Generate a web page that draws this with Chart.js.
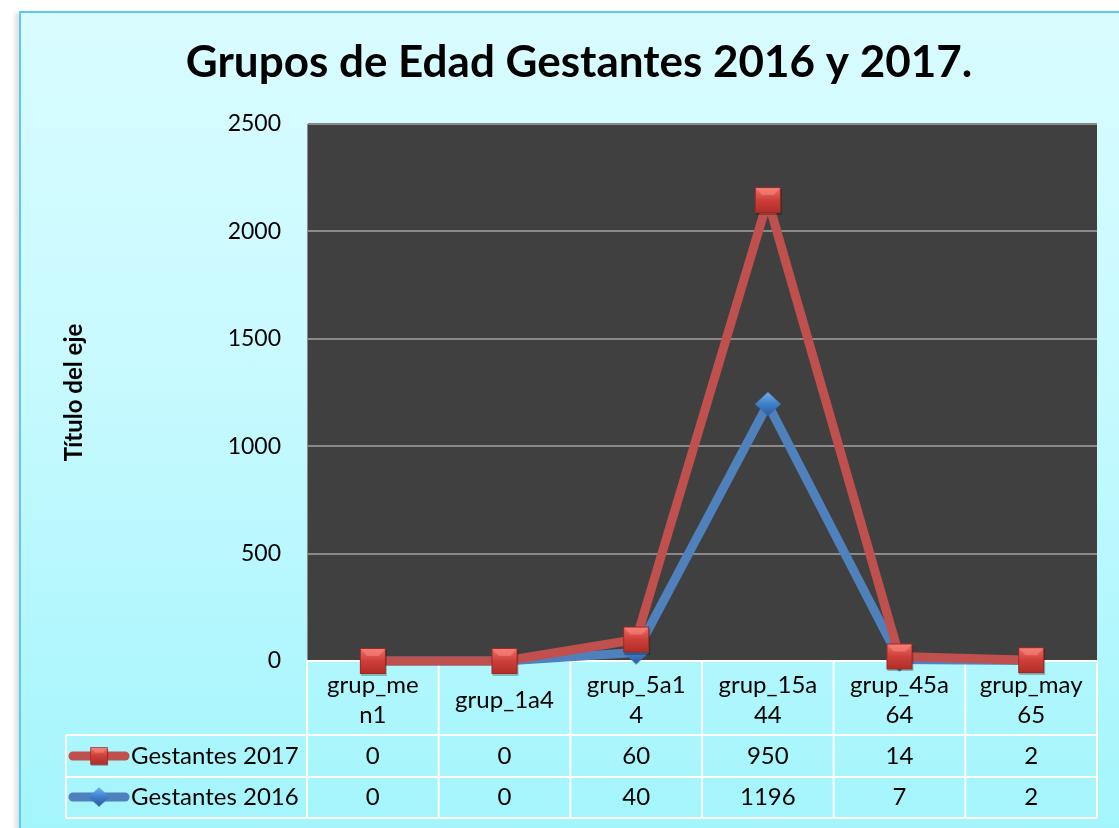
<!DOCTYPE html>
<html><head><meta charset="utf-8">
<script src="https://cdn.jsdelivr.net/npm/chart.js@4/dist/chart.umd.min.js"></script>
<style>
html,body{margin:0;padding:0;background:#fff;width:1119px;height:828px;overflow:hidden;}
#box{position:absolute;left:19px;top:11px;width:1120px;height:830px;border:2px solid #5cc9ee;
 background:linear-gradient(to bottom,#d9fcff 0%,#c9faff 40%,#a2f5fc 100%);box-shadow:-4px 2px 4px rgba(0,0,0,0.12);}
#wrap{position:absolute;left:0;top:0;width:1119px;height:828px;}
</style></head><body>
<div id="box"></div>
<div id="wrap"><canvas id="c" width="1119" height="828"></canvas></div>
<script>
const categories = ['grup_men1','grup_1a4','grup_5a14','grup_15a44','grup_45a64','grup_may65'];
const categoryLines = [['grup_me','n1'],['grup_1a4'],['grup_5a1','4'],['grup_15a','44'],['grup_45a','64'],['grup_may','65']];
const seriesNames = ['Gestantes 2017','Gestantes 2016'];
const gestantes2017 = [0,0,60,950,14,2];
const gestantes2016 = [0,0,40,1196,7,2];
const yTicks = [0,500,1000,1500,2000,2500];
const chartTitle = 'Grupos de Edad Gestantes 2016 y 2017.';
const axisTitle = 'Título del eje';

const FONT = 'Lato, "Open Sans", sans-serif';

function makeSquare(){
  const s=30, c=document.createElement('canvas'); c.width=s; c.height=s;
  const g=c.getContext('2d');
  g.fillStyle='rgba(0,0,0,0.25)'; g.fillRect(3,4,26,26);
  const gr=g.createLinearGradient(0,2,0,28);
  gr.addColorStop(0,'#ee6f68'); gr.addColorStop(0.5,'#cf3f39'); gr.addColorStop(1,'#b02d29');
  g.fillStyle=gr; g.fillRect(2,2,26,26);
  g.fillStyle='rgba(255,150,140,0.45)';
  g.beginPath(); g.moveTo(2,2); g.lineTo(28,2); g.lineTo(21,10); g.lineTo(9,10); g.closePath(); g.fill();
  g.strokeStyle='#9c2925'; g.lineWidth=1; g.strokeRect(2.5,2.5,25,25);
  return c;
}
function makeDiamond(){
  const w=28,h=26,c=document.createElement('canvas'); c.width=w; c.height=h;
  const g=c.getContext('2d');
  const gr=g.createLinearGradient(0,1,0,25);
  gr.addColorStop(0,'#6fb0f2'); gr.addColorStop(0.5,'#3f7fcb'); gr.addColorStop(1,'#2a5c9c');
  g.fillStyle=gr;
  g.beginPath(); g.moveTo(14,1); g.lineTo(27,13); g.lineTo(14,25); g.lineTo(1,13); g.closePath(); g.fill();
  return c;
}
const sq = makeSquare(), dia = makeDiamond();
const RED='#c0504d', BLUE='#4f81bd';

const plotBg = {
  id:'plotBg',
  beforeDraw(chart){
    const {ctx, chartArea:a} = chart;
    ctx.save(); ctx.fillStyle='#404040';
    ctx.fillRect(a.left,a.top,a.right-a.left,a.bottom-a.top);
    ctx.restore();
  }
};

// draw the 2017 (top of stack) series after the 2016 one so its markers sit on top
const drawOrder = {
  id:'drawOrder',
  beforeDatasetDraw(chart,args){ if(args.index===1 && !chart.$lateDraw) return false; },
  afterDatasetsDraw(chart){
    chart.$lateDraw = true;
    chart.getDatasetMeta(1).controller.draw();
    chart.$lateDraw = false;
  }
};

const dataTable = {
  id:'dataTable',
  beforeDatasetsDraw(chart){
    const {ctx, chartArea:a, scales:{x}} = chart;
    const n = categories.length;
    const colW = (a.right-a.left)/n;
    const top=a.bottom, r1=735, r2=777, bot=818, leftX=66;
    ctx.save();
    ctx.strokeStyle='#ffffff'; ctx.lineWidth=2;
    ctx.beginPath();
    ctx.moveTo(a.left,top); ctx.lineTo(a.right,top);
    [r1,r2,bot].forEach(y=>{ctx.moveTo(leftX,y); ctx.lineTo(a.right,y);});
    for(let k=0;k<=n;k++){const xx=a.left+k*colW; ctx.moveTo(xx,top); ctx.lineTo(xx,bot);}
    ctx.moveTo(leftX,r1); ctx.lineTo(leftX,bot);
    ctx.stroke();
    ctx.fillStyle='#000'; ctx.font='24px '+FONT; ctx.textAlign='center'; ctx.textBaseline='middle';
    categoryLines.forEach((lines,i)=>{
      const cx=x.getPixelForValue(i);
      if(lines.length===1) ctx.fillText(lines[0],cx,700);
      else { ctx.fillText(lines[0],cx,685); ctx.fillText(lines[1],cx,715); }
    });
    const rows=[gestantes2017,gestantes2016], ys=[756,797], marks=[sq,dia], cols=[RED,BLUE];
    const mw=[20,23], mh=[20,21];
    rows.forEach((vals,ri)=>{
      vals.forEach((v,i)=>ctx.fillText(String(v),x.getPixelForValue(i),ys[ri]));
      ctx.textAlign='left'; ctx.fillText(seriesNames[ri],131,ys[ri]); ctx.textAlign='center';
      ctx.strokeStyle=cols[ri]; ctx.lineWidth=9; ctx.lineCap='round';
      ctx.beginPath(); ctx.moveTo(73,ys[ri]); ctx.lineTo(125,ys[ri]); ctx.stroke();
      ctx.drawImage(marks[ri],99-mw[ri]/2,ys[ri]-mh[ri]/2,mw[ri],mh[ri]);
    });
    ctx.restore();
  }
};

const titlePlugin = {
  id:'mainTitle',
  afterDraw(chart){
    const ctx=chart.ctx; ctx.save();
    ctx.fillStyle='#000'; ctx.font='bold 44px '+FONT; ctx.textAlign='center'; ctx.textBaseline='alphabetic';
    ctx.fillText(chartTitle,579,77);
    ctx.restore();
  }
};

new Chart(document.getElementById('c'),{
  type:'line',
  data:{
    labels:categories,
    datasets:[
      {label:seriesNames[1],data:gestantes2016,borderColor:BLUE,backgroundColor:BLUE,borderWidth:9,
       pointStyle:dia,pointRadius:13,fill:false,tension:0,clip:false,borderJoinStyle:'round'},
      {label:seriesNames[0],data:gestantes2017,borderColor:RED,backgroundColor:RED,borderWidth:9,
       pointStyle:sq,pointRadius:13,fill:false,tension:0,clip:false,borderJoinStyle:'round'}
    ]
  },
  options:{
    responsive:false, animation:false, devicePixelRatio:1,
    layout:{padding:{left:60,top:124,right:14,bottom:167}},
    plugins:{legend:{display:false},tooltip:{enabled:false},title:{display:false}},
    scales:{
      x:{display:false,offset:true},
      y:{
        stacked:true,min:0,max:2500,
        afterBuildTicks(s){ s.ticks = yTicks.map(v=>({value:v})); },
        afterFit(s){ s.width=247; },
        ticks:{color:'#000',font:{family:FONT,size:23},padding:26,callback:v=>String(v)},
        grid:{color:'#8a8a8a',lineWidth:2,drawTicks:false},
        border:{display:true,color:'#8a8a8a',width:1},
        title:{display:true,text:axisTitle,color:'#000',font:{family:FONT,size:24,weight:'bold'},padding:0}
      }
    }
  },
  plugins:[plotBg,dataTable,drawOrder,titlePlugin]
});
</script>
</body></html>
